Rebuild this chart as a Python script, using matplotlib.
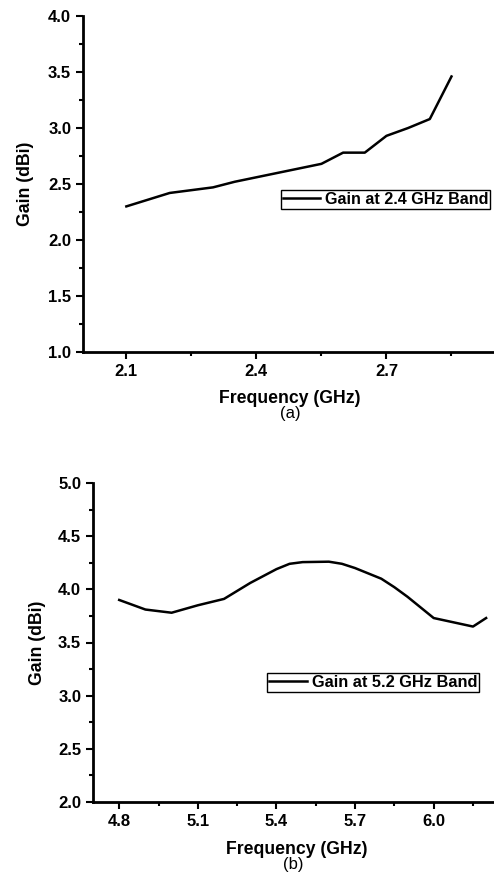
import matplotlib
matplotlib.use("Agg")
import matplotlib.pyplot as plt
from matplotlib.ticker import MultipleLocator

plt.rcParams['font.family'] = ['Liberation Sans', 'DejaVu Sans']

# 2.4 GHz band gain
freq_a = [2.10, 2.20, 2.30, 2.35, 2.40, 2.45, 2.50, 2.55, 2.60, 2.65, 2.70, 2.75, 2.80, 2.85]
gain_a = [2.30, 2.42, 2.47, 2.52, 2.56, 2.60, 2.64, 2.68, 2.78, 2.78, 2.93, 3.00, 3.08, 3.46]

# 5.2 GHz band gain
freq_b = [4.80, 4.90, 5.00, 5.10, 5.20, 5.30, 5.40, 5.45, 5.50, 5.60, 5.65, 5.70,
          5.80, 5.85, 5.90, 5.95, 6.00, 6.15, 6.20]
gain_b = [3.90, 3.81, 3.78, 3.85, 3.91, 4.06, 4.19, 4.24, 4.256, 4.26, 4.24, 4.20,
          4.10, 4.02, 3.93, 3.83, 3.73, 3.65, 3.73]

W, H = 494, 875
fig = plt.figure(figsize=(W / 100, H / 100), dpi=100)


def px_axes(left, top, right, bottom):
    return fig.add_axes([left / W, 1 - bottom / H, (right - left) / W, (bottom - top) / H])


def style(ax):
    for s in ('top', 'right'):
        ax.spines[s].set_visible(False)
    for s in ('left', 'bottom'):
        ax.spines[s].set_linewidth(2)
    ax.tick_params(which='both', direction='out', width=1.5, labelsize=12)
    ax.tick_params(which='major', length=5)
    ax.tick_params(which='minor', length=3)
    for lab in ax.get_xticklabels() + ax.get_yticklabels():
        lab.set_fontweight('bold')


def legend(ax, x0, y0, size):
    leg = ax.legend(loc='upper left', bbox_to_anchor=(x0 / W, 1 - y0 / H),
                    bbox_transform=fig.transFigure, fancybox=False,
                    edgecolor='black', framealpha=1, borderpad=0.12,
                    handlelength=2.3, handletextpad=0.3, borderaxespad=0,
                    prop={'weight': 'bold', 'size': size})
    leg.get_frame().set_linewidth(1)


# (a)
ax1 = px_axes(83, 16, 497, 352)
ax1.plot(freq_a, gain_a, color='black', lw=1.8, label='Gain at 2.4 GHz Band')
ax1.set_xlim(2.0, 2.955)
ax1.set_ylim(1.0, 4.0)
ax1.set_xticks([2.1, 2.4, 2.7])
ax1.xaxis.set_minor_locator(MultipleLocator(0.15))
ax1.yaxis.set_major_locator(MultipleLocator(0.5))
ax1.yaxis.set_minor_locator(MultipleLocator(0.25))
ax1.set_xticklabels(['2.1', '2.4', '2.7'])
ax1.set_yticklabels(['%.1f' % v for v in ax1.get_yticks()])
style(ax1)
ax1.set_xlabel('Frequency (GHz)', fontsize=12.7, fontweight='bold', labelpad=8)
ax1.set_ylabel('Gain (dBi)', fontsize=12.7, fontweight='bold', labelpad=10)
legend(ax1, 281, 190, 11.6)
fig.text(290 / W, 1 - 414 / H, '(a)', ha='center', va='center', fontsize=12)

# (b)
ax2 = px_axes(93, 483, 500, 802)
ax2.plot(freq_b, gain_b, color='black', lw=1.8, label='Gain at 5.2 GHz Band')
ax2.set_xlim(4.7, 6.253)
ax2.set_ylim(2.0, 5.0)
ax2.set_xticks([4.8, 5.1, 5.4, 5.7, 6.0])
ax2.xaxis.set_minor_locator(MultipleLocator(0.15))
ax2.yaxis.set_major_locator(MultipleLocator(0.5))
ax2.yaxis.set_minor_locator(MultipleLocator(0.25))
ax2.set_xticklabels(['4.8', '5.1', '5.4', '5.7', '6.0'])
ax2.set_yticklabels(['%.1f' % v for v in ax2.get_yticks()])
style(ax2)
ax2.set_xlabel('Frequency (GHz)', fontsize=12.7, fontweight='bold', labelpad=9)
ax2.set_ylabel('Gain (dBi)', fontsize=12.7, fontweight='bold', labelpad=9)
legend(ax2, 267, 673, 11.8)
fig.text(293 / W, 1 - 865 / H, '(b)', ha='center', va='center', fontsize=12)

fig.savefig('out.png', dpi=100)
